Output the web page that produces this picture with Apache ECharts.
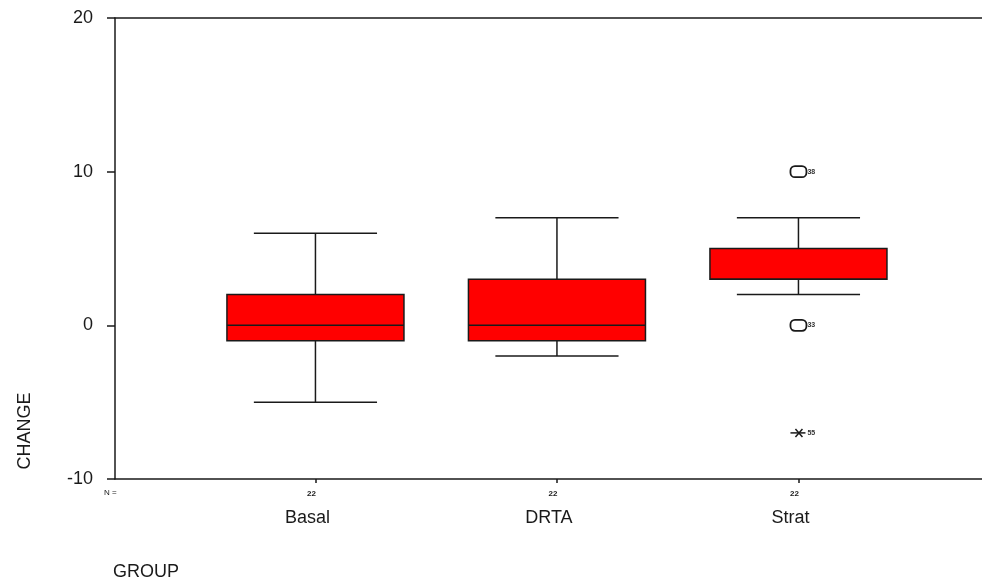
<!DOCTYPE html>
<html>
<head>
<meta charset="utf-8">
<script src="https://cdn.jsdelivr.net/npm/echarts@6/dist/echarts.min.js"></script>
<style>html,body{margin:0;padding:0;background:#fff}#c{width:982px;height:581px}</style>
</head>
<body>
<div id="c"></div>
<script>
const categories = ['Basal', 'DRTA', 'Strat'];
const nValues = ['22', '22', '22'];
const whiskerLow = [-5, -2, 2];
const q1 = [-1, -1, 3];
const median = [0, 0, 3];
const q3 = [2, 3, 5];
const whiskerHigh = [6, 7, 7];
// [category index, value, marker type, case label]
const outliers = [
  [2, 10, 'o', '38'],
  [2, 0, 'o', '33'],
  [2, -7, '*', '55']
];
const yTicks = [-10, 0, 10, 20];

const FONT = 'Liberation Sans, Arial, sans-serif';
const INK = '#1a1a1a';

const boxData = categories.map((c, i) => [i + 1, whiskerLow[i], q1[i], median[i], q3[i], whiskerHigh[i]]);
const outData = outliers.map(o => [o[0] + 1, o[1], o[2], o[3]]);

const chart = echarts.init(document.getElementById('c'));
chart.setOption({
  animation: false,
  backgroundColor: '#fff',
  grid: { left: 115, right: 0, top: 18, bottom: 102 },
  xAxis: [{
    type: 'value',
    min: 0.170,
    max: 3.760,
    position: 'bottom',
    splitLine: { show: false },
    axisLine: { show: true, onZero: false, lineStyle: { color: INK, width: 1.5 } },
    axisTick: { show: true, length: 4, customValues: [1, 2, 3], lineStyle: { color: INK, width: 1.5 } },
    axisLabel: {
      customValues: [1, 2, 3],
      margin: 8,
      formatter: v => {
        const i = Math.round(v) - 1;
        return '{n|' + nValues[i] + '}\n{c|' + categories[i] + '}';
      },
      rich: {
        n: { fontSize: 8, fontWeight: 'bold', lineHeight: 14, color: INK, fontFamily: FONT, padding: [0, 8, 0, 0] },
        c: { fontSize: 18, lineHeight: 34, color: INK, fontFamily: FONT, padding: [0, 16, 0, 0] }
      }
    }
  }, {
    type: 'value',
    position: 'top',
    min: 0.170,
    max: 3.760,
    splitLine: { show: false },
    axisLine: { show: true, onZero: false, lineStyle: { color: INK, width: 1.5 } },
    axisTick: { show: false },
    axisLabel: { show: false }
  }],
  yAxis: {
    type: 'value',
    min: -10,
    max: 20,
    interval: 10,
    splitLine: { show: false },
    axisLine: { show: true, onZero: false, lineStyle: { color: INK, width: 1.5 } },
    axisTick: { show: true, length: 8, lineStyle: { color: INK, width: 1.5 } },
    axisLabel: {
      margin: 22,
      fontSize: 18,
      color: INK,
      fontFamily: FONT,
      formatter: v => yTicks.includes(v) ? String(v) : ''
    }
  },
  graphic: [
    { type: 'text', left: 104, top: 489, style: { text: 'N =', fontSize: 8, fill: INK, fontFamily: FONT } },
    { type: 'text', left: 113, top: 563, style: { text: 'GROUP', fontSize: 18, fill: INK, fontFamily: FONT } },
    { type: 'text', x: 25, y: 431, rotation: Math.PI / 2, style: { text: 'CHANGE', fontSize: 18, fill: INK, fontFamily: FONT, align: 'center', verticalAlign: 'middle', letterSpacing: 1.5 } }
  ],
  series: [{
    type: 'custom',
    data: boxData,
    renderItem: (params, api) => {
      const x = api.value(0);
      const band = api.size([1, 0])[0];
      const bw = band * 0.733, ww = band * 0.51;
      const pMin = api.coord([x, api.value(1)]);
      const pQ1 = api.coord([x, api.value(2)]);
      const pMed = api.coord([x, api.value(3)]);
      const pQ3 = api.coord([x, api.value(4)]);
      const pMax = api.coord([x, api.value(5)]);
      const cx = pMin[0];
      const ls = { stroke: INK, lineWidth: 1.5 };
      return {
        type: 'group',
        children: [
          { type: 'line', shape: { x1: cx, y1: pMax[1], x2: cx, y2: pQ3[1] }, style: ls },
          { type: 'line', shape: { x1: cx, y1: pQ1[1], x2: cx, y2: pMin[1] }, style: ls },
          { type: 'line', shape: { x1: cx - ww / 2, y1: pMax[1], x2: cx + ww / 2, y2: pMax[1] }, style: ls },
          { type: 'line', shape: { x1: cx - ww / 2, y1: pMin[1], x2: cx + ww / 2, y2: pMin[1] }, style: ls },
          { type: 'rect', shape: { x: cx - bw / 2, y: pQ3[1], width: bw, height: pQ1[1] - pQ3[1] }, style: { fill: '#ff0000', stroke: INK, lineWidth: 1.5 } },
          { type: 'line', shape: { x1: cx - bw / 2, y1: pMed[1], x2: cx + bw / 2, y2: pMed[1] }, style: ls }
        ]
      };
    }
  }, {
    type: 'custom',
    data: outData,
    renderItem: (params, api) => {
      const p = api.coord([api.value(0), api.value(1)]);
      const kind = outData[params.dataIndex][2];
      const label = outData[params.dataIndex][3];
      const ls = { stroke: INK, lineWidth: 1.5, fill: 'none' };
      const children = [];
      if (kind === 'o') {
        children.push({ type: 'rect', shape: { x: p[0] - 8, y: p[1] - 5.5, width: 16, height: 11, r: 4.5 }, style: { stroke: INK, lineWidth: 1.8, fill: '#fff' } });
      } else {
        children.push({ type: 'line', shape: { x1: p[0] - 8, y1: p[1], x2: p[0] + 7, y2: p[1] }, style: ls });
        children.push({ type: 'line', shape: { x1: p[0] - 3, y1: p[1] - 4, x2: p[0] + 4, y2: p[1] + 4 }, style: ls });
        children.push({ type: 'line', shape: { x1: p[0] - 3, y1: p[1] + 4, x2: p[0] + 4, y2: p[1] - 4 }, style: ls });
      }
      children.push({ type: 'text', style: { text: label, x: p[0] + 9, y: p[1], fontSize: 7, fontWeight: 'bold', fill: '#333', fontFamily: FONT, verticalAlign: 'middle' } });
      return { type: 'group', children };
    }
  }]
});
</script>
</body>
</html>
